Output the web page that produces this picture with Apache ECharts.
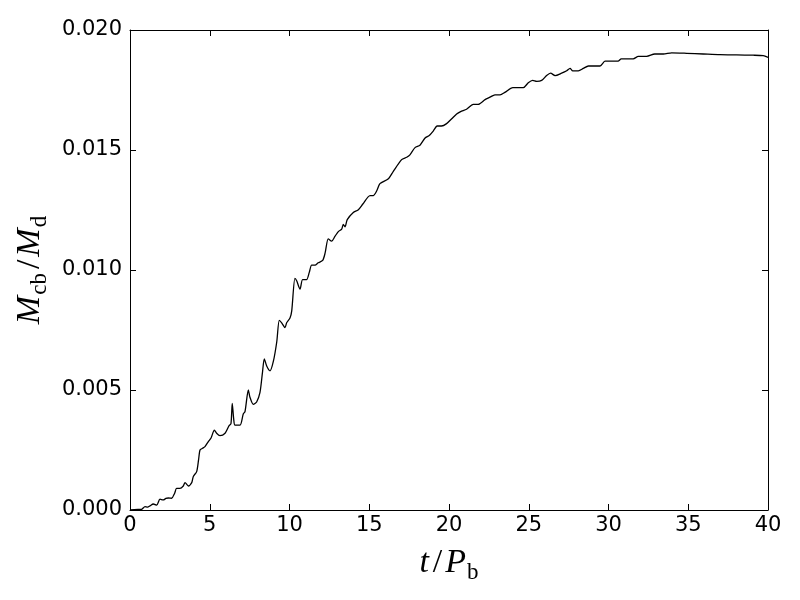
<!DOCTYPE html>
<html>
<head>
<meta charset="utf-8">
<script src="https://cdn.jsdelivr.net/npm/echarts@6/dist/echarts.min.js"></script>
<style>html,body{margin:0;padding:0;background:#fff}#c{width:800px;height:600px}</style>
</head>
<body>
<div id="c"></div>
<script>
const tValues = [0,0.5,0.73,0.94,1.1,1.25,1.46,1.67,1.88,2.09,2.25,2.4,2.61,2.8,2.92,3.13,3.34,3.45,3.66,3.87,3.97,4.18,4.3,4.39,4.55,4.7,4.91,5.08,5.29,5.43,5.64,5.96,6.2,6.33,6.41,6.5,6.58,6.9,7.1,7.21,7.42,7.52,7.73,7.94,8.15,8.3,8.42,8.57,8.78,8.99,9.2,9.36,9.51,9.72,9.82,10.03,10.14,10.34,10.45,10.66,10.82,11.07,11.24,11.39,11.6,11.8,12.08,12.23,12.43,12.64,12.85,13.06,13.27,13.37,13.48,13.62,14.0,14.3,14.6,15.05,15.25,15.47,15.67,16.2,16.5,17.03,17.35,17.55,17.87,18.18,18.5,18.76,19.02,19.26,19.53,19.85,20.17,20.48,20.73,21.1,21.52,21.83,22.26,22.57,22.88,23.2,23.5,24.0,24.24,24.66,24.97,25.24,25.5,25.81,26.12,26.37,26.65,27.06,27.38,27.59,27.76,28.11,28.42,28.74,29.05,29.47,29.78,30.05,30.3,30.6,30.8,31.1,31.55,31.87,32.39,32.9,33.44,33.96,34.9,35.94,36.99,38.03,39.07,39.7,40];
const mValues = [0,0.00002,0.00003,0.00014,0.00012,0.00017,0.00025,0.0002,0.00045,0.00042,0.00048,0.0005,0.00049,0.0007,0.0009,0.0009,0.001,0.00114,0.001,0.00114,0.0014,0.0016,0.0021,0.0025,0.00257,0.00264,0.00285,0.003,0.00333,0.0032,0.0031,0.0032,0.0035,0.0036,0.00444,0.0038,0.00354,0.00354,0.004,0.0041,0.005,0.0047,0.0044,0.0045,0.0049,0.0057,0.0063,0.006,0.0058,0.0062,0.007,0.0079,0.0078,0.0076,0.0078,0.008,0.0083,0.00965,0.00955,0.0092,0.0096,0.0096,0.0099,0.0102,0.0102,0.0103,0.0104,0.0107,0.0113,0.0112,0.0114,0.0116,0.0117,0.0119,0.0118,0.0121,0.0124,0.0125,0.01275,0.0131,0.0131,0.0133,0.0136,0.0138,0.0141,0.0146,0.0147,0.0148,0.0151,0.0152,0.0155,0.0156,0.0158,0.016,0.016,0.0161,0.0163,0.0165,0.0166,0.0167,0.0169,0.0169,0.0171,0.0172,0.0173,0.0173,0.0174,0.0176,0.0176,0.0176,0.0178,0.0179,0.01786,0.0179,0.0181,0.0182,0.0181,0.0182,0.0183,0.0184,0.0183,0.0183,0.0184,0.0185,0.0185,0.0185,0.0187,0.0187,0.0187,0.0187,0.0188,0.0188,0.0188,0.0189,0.0189,0.019,0.019,0.01905,0.01903,0.019,0.01897,0.01896,0.01895,0.01893,0.01886];
const xTicks = {min: 0, max: 40, interval: 5};
const yTicks = {min: 0, max: 0.02, interval: 0.005};
const xName = '{i|t}{r|/}{i|P}{s|b}';
const yName = '{i|M}{s|cb}{r|/}{i|M}{s|d}';

const chart = echarts.init(document.getElementById('c'), null, {renderer: 'canvas'});
const mathRich = {
  i: {fontFamily: 'Liberation Serif', fontStyle: 'italic', fontSize: 34, color: '#000', verticalAlign: 'top', lineHeight: 38},
  r: {fontFamily: 'Liberation Serif', fontSize: 34, color: '#000', verticalAlign: 'top', lineHeight: 38, padding: [0, 3, 0, 4]},
  s: {fontFamily: 'Liberation Serif', fontSize: 23, color: '#000', verticalAlign: 'bottom', lineHeight: 38, padding: [0, 0, 0, 1]}
};
const lineStyle = {color: '#000', width: 1};
const tick = {show: true, inside: true, length: 6, lineStyle: {color: '#000', width: 1}};
function axisBase(extra) {
  return Object.assign({
    type: 'value',
    axisLine: {show: true, onZero: false, lineStyle: lineStyle},
    axisTick: tick,
    splitLine: {show: false}
  }, extra);
}
chart.setOption({
  animation: false,
  backgroundColor: '#fff',
  grid: {left: 130, right: 32, top: 30, bottom: 90, containLabel: false},
  xAxis: [
    axisBase(Object.assign({}, xTicks, {
      position: 'bottom',
      name: xName, nameLocation: 'middle', nameGap: 36,
      nameTextStyle: {rich: mathRich},
      axisLabel: {color: '#000', fontFamily: 'DejaVu Sans', fontSize: 21, margin: 5, formatter: v => String(v)}
    })),
    axisBase(Object.assign({}, xTicks, {position: 'top', axisLabel: {show: false}}))
  ],
  yAxis: [
    axisBase(Object.assign({}, yTicks, {
      position: 'left',
      name: yName, nameLocation: 'middle', nameGap: 76, nameRotate: 90,
      nameTextStyle: {rich: mathRich},
      axisLabel: {color: '#000', fontFamily: 'DejaVu Sans', fontSize: 21, margin: 8, formatter: v => v.toFixed(3)}
    })),
    axisBase(Object.assign({}, yTicks, {position: 'right', axisLabel: {show: false}}))
  ],
  series: [{
    type: 'line',
    xAxisIndex: 0, yAxisIndex: 0,
    data: tValues.map((t, k) => [t, mValues[k]]),
    showSymbol: false,
    smooth: 0.25,
    lineStyle: {color: '#000', width: 1.3},
    silent: true
  }]
});
</script>
</body>
</html>
